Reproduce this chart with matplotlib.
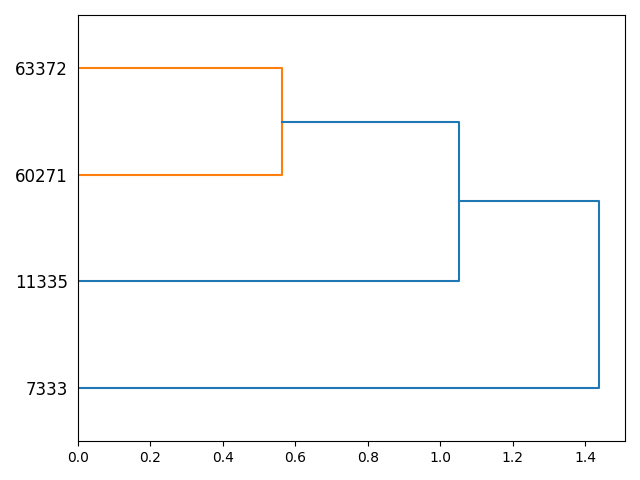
import matplotlib
matplotlib.use("Agg")
import matplotlib.pyplot as plt

# leaf labels, bottom to top
leaf_labels = ["7333", "11335", "60271", "63372"]

# merges: (left child, right child, distance, colour)
# children are leaf indices (0..3) or previous merge ids (4, 5, ...)
merges = [
    (2, 3, 0.563, "C1"),
    (1, 4, 1.051, "C0"),
    (0, 5, 1.438, "C0"),
]

fig, ax = plt.subplots(figsize=(6.4, 4.8))

# leaf positions follow the scipy convention 5, 15, 25, ...
pos = {i: 5 + 10 * i for i in range(len(leaf_labels))}
height = {i: 0.0 for i in range(len(leaf_labels))}

for k, (a, b, d, col) in enumerate(merges):
    ya, yb = pos[a], pos[b]
    ax.plot([height[a], d, d, height[b]], [ya, ya, yb, yb], color=col, lw=1.5)
    nid = len(leaf_labels) + k
    pos[nid] = (ya + yb) / 2
    height[nid] = d

ax.set_yticks([pos[i] for i in range(len(leaf_labels))])
ax.set_yticklabels(leaf_labels, fontsize=12)
# tick marks hidden but keep their spacing
for line in ax.get_yticklines():
    line.set_visible(False)
ax.set_ylim(0, 10 * len(leaf_labels))
ax.set_xlim(0, merges[-1][2] * 1.05)

fig.tight_layout()
fig.savefig("out.png", dpi=100)
